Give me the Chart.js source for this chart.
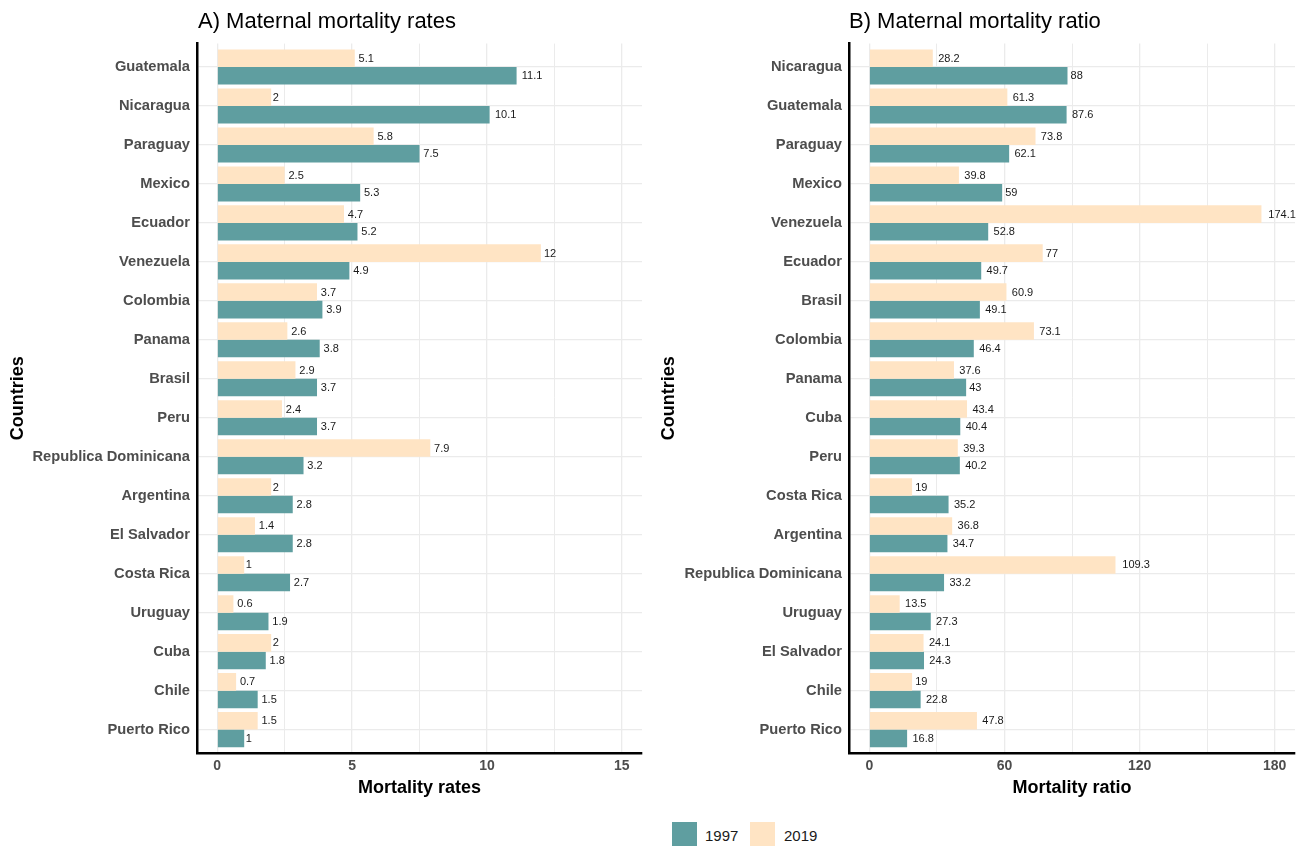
<!DOCTYPE html>
<html>
<head>
<meta charset="utf-8">
<title>Maternal mortality</title>
<script src="https://cdn.jsdelivr.net/npm/chart.js@4.4.1/dist/chart.umd.min.js"></script>
<style>
  html, body { margin: 0; padding: 0; background: #fff; }
  #wrap { position: relative; width: 1303px; height: 846px; overflow: hidden;
          font-family: "Liberation Sans", Arial, sans-serif; }
  canvas { position: absolute; top: 0; }
  #chartA { left: 0; }
  #chartB { left: 651px; }
  .title { position: absolute; top: 8px; font-size: 22px; line-height: 26px; color: #000; white-space: nowrap; }
  .key { position: absolute; top: 822px; width: 25px; height: 24px; }
  .keytext { position: absolute; top: 827px; font-size: 15px; line-height: 18px; color: #1a1a1a; }
</style>
</head>
<body>
<div id="wrap">
  <canvas id="chartA" width="651" height="810"></canvas>
  <canvas id="chartB" width="652" height="810"></canvas>
  <div class="title" style="left:198px">A) Maternal mortality rates</div>
  <div class="title" style="left:849px">B) Maternal mortality ratio</div>
  <div class="key" style="left:672px;background:#5F9EA0"></div>
  <div class="keytext" style="left:705px">1997</div>
  <div class="key" style="left:750px;background:#FFE4C4"></div>
  <div class="keytext" style="left:784px">2019</div>
</div>
<script>
// Panel A: maternal mortality rates
const countriesA = ["Guatemala", "Nicaragua", "Paraguay", "Mexico", "Ecuador", "Venezuela",
  "Colombia", "Panama", "Brasil", "Peru", "Republica Dominicana", "Argentina",
  "El Salvador", "Costa Rica", "Uruguay", "Cuba", "Chile", "Puerto Rico"];
const rates1997 = [11.1, 10.1, 7.5, 5.3, 5.2, 4.9, 3.9, 3.8, 3.7, 3.7, 3.2, 2.8, 2.8, 2.7, 1.9, 1.8, 1.5, 1];
const rates2019 = [5.1, 2, 5.8, 2.5, 4.7, 12, 3.7, 2.6, 2.9, 2.4, 7.9, 2, 1.4, 1, 0.6, 2, 0.7, 1.5];
const ticksA = [0, 5, 10, 15];

// Panel B: maternal mortality ratio
const countriesB = ["Nicaragua", "Guatemala", "Paraguay", "Mexico", "Venezuela", "Ecuador",
  "Brasil", "Colombia", "Panama", "Cuba", "Peru", "Costa Rica", "Argentina",
  "Republica Dominicana", "Uruguay", "El Salvador", "Chile", "Puerto Rico"];
const ratio1997 = [88, 87.6, 62.1, 59, 52.8, 49.7, 49.1, 46.4, 43, 40.4, 40.2, 35.2, 34.7, 33.2, 27.3, 24.3, 22.8, 16.8];
const ratio2019 = [28.2, 61.3, 73.8, 39.8, 174.1, 77, 60.9, 73.1, 37.6, 43.4, 39.3, 19, 36.8, 109.3, 13.5, 24.1, 19, 47.8];
const ticksB = [0, 60, 120, 180];

const FONT = '"Liberation Sans", Arial, sans-serif';
const TEAL = '#5F9EA0';
const PEACH = '#FFE4C4';
const GRID = '#ebebeb';

// value written just past the end of every bar (gap grows with label width)
const valueLabels = {
  id: 'valueLabels',
  afterDatasetsDraw(chart) {
    const ctx = chart.ctx;
    ctx.save();
    ctx.font = '11px ' + FONT;
    ctx.fillStyle = '#1a1a1a';
    ctx.textBaseline = 'middle';
    ctx.textAlign = 'left';
    chart.data.datasets.forEach((ds, di) => {
      chart.getDatasetMeta(di).data.forEach((bar, i) => {
        const txt = String(ds.data[i]);
        const w = ctx.measureText(txt).width;
        ctx.fillText(txt, bar.x + 0.25 * w, bar.y + 0.5);
      });
    });
    ctx.restore();
  }
};

function buildPanel(canvasId, labels, v1997, v2019, majorTicks, xTitle, leftWidth, rightPad) {
  const first = majorTicks[0], last = majorTicks[majorTicks.length - 1];
  const span = last - first;
  const step = majorTicks[1] - majorTicks[0];
  const allTicks = [];
  for (let i = 0; i < majorTicks.length; i++) {
    allTicks.push(majorTicks[i]);
    if (i < majorTicks.length - 1) allTicks.push(majorTicks[i] + step / 2);
  }
  const isMajor = v => majorTicks.includes(v);

  return new Chart(document.getElementById(canvasId), {
    type: 'bar',
    data: {
      labels: labels,
      datasets: [
        { label: '2019', data: v2019, backgroundColor: PEACH },
        { label: '1997', data: v1997, backgroundColor: TEAL }
      ]
    },
    options: {
      indexAxis: 'y',
      responsive: false,
      animation: false,
      events: [],
      datasets: { bar: { categoryPercentage: 0.9, barPercentage: 1.0 } },
      layout: { padding: { top: 43.6, right: rightPad, bottom: 0, left: 0 } },
      plugins: { legend: { display: false }, tooltip: { enabled: false }, title: { display: false } },
      scales: {
        x: {
          type: 'linear',
          min: first - span * 0.05,
          max: last + span * 0.05,
          afterBuildTicks: s => { s.ticks = allTicks.map(v => ({ value: v })); },
          afterFit: s => { s.height = 57; },
          ticks: {
            autoSkip: false,
            padding: 5,
            color: '#4d4d4d',
            font: { family: FONT, size: 14, weight: 'bold' },
            callback: v => isMajor(v) ? String(v) : ''
          },
          grid: {
            color: GRID,
            lineWidth: c => (c.tick && isMajor(c.tick.value)) ? 1.3 : 1,
            drawTicks: false
          },
          border: { display: true, color: '#000', width: 2.5 },
          title: {
            display: true, text: xTitle, color: '#000',
            font: { family: FONT, size: 18, weight: 'bold' },
            padding: { top: 0, bottom: 11 }
          }
        },
        y: {
          type: 'category',
          offset: true,
          afterBuildTicks: s => {
            s._startValue = s.min - 0.6;
            s._valueRange = (s.max - s.min) + 1.2;
          },
          afterFit: s => { s.width = leftWidth; },
          ticks: {
            autoSkip: false,
            padding: 7,
            color: '#4d4d4d',
            font: { family: FONT, size: 14.7, weight: 'bold' }
          },
          grid: { color: GRID, lineWidth: 1.3, offset: false, drawTicks: false },
          border: { display: true, color: '#000', width: 2.5 },
          title: {
            display: true, text: 'Countries', color: '#000',
            font: { family: FONT, size: 18, weight: 'bold' },
            padding: { top: 7, bottom: 0 }
          }
        }
      }
    },
    plugins: [valueLabels]
  });
}

buildPanel('chartA', countriesA, rates1997, rates2019, ticksA, 'Mortality rates', 197, 9);
buildPanel('chartB', countriesB, ratio1997, ratio2019, ticksB, 'Mortality ratio', 198, 8);
</script>
</body>
</html>
